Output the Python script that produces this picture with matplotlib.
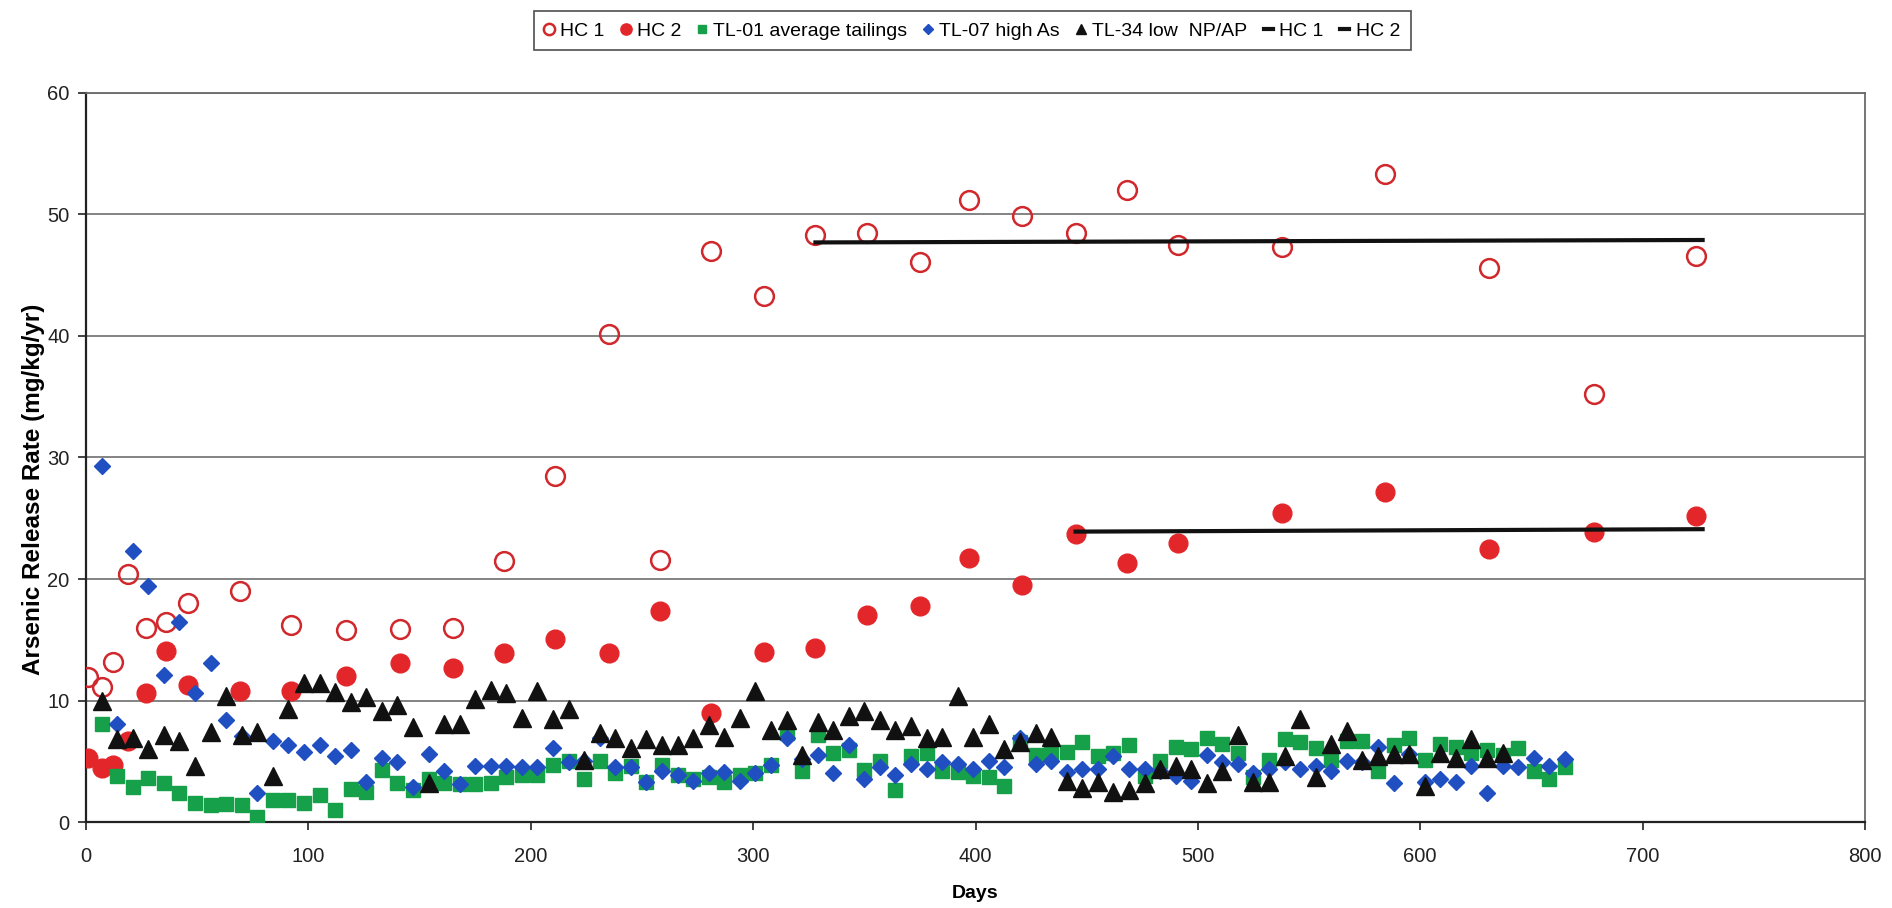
import matplotlib
matplotlib.use("Agg")
import matplotlib.pyplot as plt

plt.rcParams['font.family'] = ['Liberation Sans', 'DejaVu Sans']

# humidity cell sampling days (HC 1 / HC 2)
hc_days = [1, 7, 12, 19, 27, 36, 46, 69, 92, 117,
           141, 165, 188, 211, 235, 258, 281, 305, 328, 351,
           375, 397, 421, 445, 468, 491, 538, 584, 631, 678, 724]
hc1 = [11.9, 11.1, 13.2, 20.4, 16.0, 16.5, 18.0, 19.0, 16.2, 15.8,
       15.9, 16.0, 21.5, 28.5, 40.2, 21.6, 47.0, 43.3, 48.3, 48.5,
       46.1, 51.2, 49.9, 48.5, 52.0, 47.5, 47.3, 53.3, 45.6, 35.2, 46.6]
hc2 = [5.3, 4.45, 4.7, 6.7, 10.6, 14.1, 11.3, 10.8, 10.8, 12.0,
       13.1, 12.7, 13.9, 15.1, 13.9, 17.4, 9.0, 14.0, 14.3, 17.0,
       17.8, 21.7, 19.5, 23.7, 21.3, 23.0, 25.4, 27.2, 22.5, 23.9, 25.2]

# average lines for the later part of each cell
hc1_line_days = [328, 727]
hc1_line_vals = [47.7, 47.9]
hc2_line_days = [445, 727]
hc2_line_vals = [23.9, 24.1]

# weekly tailings columns
tl_days = [7, 14, 21, 28, 35, 42, 49, 56, 63, 70,
           77, 84, 91, 98, 105, 112, 119, 126, 133, 140,
           147, 154, 161, 168, 175, 182, 189, 196, 203, 210,
           217, 224, 231, 238, 245, 252, 259, 266, 273, 280,
           287, 294, 301, 308, 315, 322, 329, 336, 343, 350,
           357, 364, 371, 378, 385, 392, 399, 406, 413, 420,
           427, 434, 441, 448, 455, 462, 469, 476, 483, 490,
           497, 504, 511, 518, 525, 532, 539, 546, 553, 560,
           567, 574, 581, 588, 595, 602, 609, 616, 623, 630,
           637, 644, 651, 658, 665]

tl01 = [8.1, 3.8, 2.9, 3.6, 3.2, 2.4, 1.6, 1.4, 1.5, 1.4,
        0.4, 1.8, 1.8, 1.6, 2.2, 1.0, 2.7, 2.5, 4.3, 3.2,
        2.6, 3.5, 3.2, 3.1, 3.1, 3.2, 3.7, 3.9, 3.9, 4.7,
        5.0, 3.5, 5.0, 4.0, 4.6, 3.3, 4.7, 3.9, 3.5, 3.7,
        3.3, 3.9, 4.0, 4.7, 7.3, 4.2, 7.2, 5.7, 5.9, 4.3,
        5.0, 2.6, 5.4, 5.7, 4.2, 4.1, 3.8, 3.7, 3.0, 6.6,
        5.5, 5.6, 5.8, 6.6, 5.4, 5.7, 6.3, 3.8, 5.0, 6.2,
        6.0, 6.9, 6.4, 5.7, 3.7, 5.1, 6.8, 6.6, 6.1, 5.1,
        6.7, 6.7, 4.2, 6.3, 6.9, 5.1, 6.4, 6.2, 5.7, 5.9,
        5.5, 6.1, 4.2, 3.5, 4.5]

tl07 = [29.3, 8.1, 22.3, 19.4, 12.1, 16.5, 10.6, 13.1, 8.4, 7.1,
        2.4, 6.7, 6.3, 5.8, 6.3, 5.4, 5.9, 3.3, 5.3, 4.9,
        2.9, 5.6, 4.2, 3.1, 4.6, 4.6, 4.6, 4.5, 4.5, 6.1,
        4.9, 5.0, 6.9, 4.5, 4.5, 3.3, 4.2, 3.9, 3.4, 4.0,
        4.1, 3.4, 4.0, 4.7, 6.9, 5.2, 5.5, 4.0, 6.3, 3.5,
        4.5, 3.9, 4.8, 4.4, 4.9, 4.8, 4.4, 5.0, 4.5, 6.9,
        4.8, 5.0, 4.1, 4.4, 4.4, 5.4, 4.4, 4.4, 4.2, 3.8,
        3.4, 5.5, 4.9, 4.8, 4.0, 4.4, 4.9, 4.4, 4.6, 4.2,
        5.0, 4.9, 6.2, 3.2, 5.6, 3.3, 3.5, 3.3, 4.6, 2.4,
        4.6, 4.5, 5.3, 4.6, 5.2]

tl34 = [10.0, 6.8, 6.9, 6.0, 7.2, 6.7, 4.6, 7.4, 10.4, 7.2,
        7.4, 3.8, 9.3, 11.4, 11.4, 10.7, 9.9, 10.3, 9.1, 9.6,
        7.8, 3.2, 8.1, 8.1, 10.1, 10.9, 10.6, 8.6, 10.8, 8.5,
        9.3, 5.1, 7.3, 6.9, 6.1, 6.8, 6.3, 6.3, 6.9, 8.0,
        7.0, 8.6, 10.8, 7.6, 8.4, 5.5, 8.2, 7.6, 8.7, 9.1,
        8.4, 7.6, 7.9, 6.9, 7.0, 10.4, 7.0, 8.1, 6.0, 6.6,
        7.3, 7.0, 3.4, 2.8, 3.3, 2.5, 2.6, 3.2, 4.4, 4.6,
        4.4, 3.2, 4.2, 7.2, 3.3, 3.3, 5.4, 8.5, 3.7, 6.4,
        7.5, 5.1, 5.4, 5.6, 5.6, 3.0, 5.7, 5.3, 6.8, 5.3,
        5.7]

x_ticks = [0, 100, 200, 300, 400, 500, 600, 700, 800]
y_ticks = [0, 10, 20, 30, 40, 50, 60]

fig = plt.figure(figsize=(18.92, 9.08), dpi=100)
ax = fig.add_axes([0.0455, 0.0947, 0.9402, 0.8029])

red = '#e3262a'
ax.plot(hc_days, hc1, 'o', ms=13.5, mfc='none', mec='#d0282c', mew=1.8, label='HC 1', zorder=3)
ax.plot(hc_days, hc2, 'o', ms=13.5, mfc=red, mec=red, label='HC 2', zorder=3)
ax.plot(tl_days, tl01, 's', ms=10.5, mfc='#17a04a', mec='#17a04a', label='TL-01 average tailings', zorder=3)
ax.plot(tl_days, tl07, 'D', ms=8.2, mfc='#1f4fc0', mec='#1f4fc0', label='TL-07 high As', zorder=3)
ax.plot(tl_days[:len(tl34)], tl34, '^', ms=13, mfc='#111111', mec='#111111', label='TL-34 low  NP/AP', zorder=3)
ax.plot(hc1_line_days, hc1_line_vals, '-', color='#111111', lw=3, label='HC 1', zorder=4)
ax.plot(hc2_line_days, hc2_line_vals, '-', color='#111111', lw=3, label='HC 2', zorder=4)

ax.set_xlim(0, 800)
ax.set_ylim(0, 60)
ax.set_xticks(x_ticks)
ax.set_yticks(y_ticks)
ax.yaxis.grid(True, color='#7a7a7a', lw=1.3)
ax.set_axisbelow(True)
ax.tick_params(axis='both', direction='out', length=6, width=1.2, colors='#222222', labelsize=14.5)
ax.tick_params(axis='x', pad=12)
ax.tick_params(axis='y', pad=6)
for side in ['left', 'bottom']:
    ax.spines[side].set_color('#222222')
    ax.spines[side].set_linewidth(1.6)
for side in ['top', 'right']:
    ax.spines[side].set_color('#6a6a6a')
    ax.spines[side].set_linewidth(1.3)

ax.set_xlabel('Days', fontsize=14, fontweight='bold', labelpad=14)
ax.set_ylabel('Arsenic Release Rate (mg/kg/yr)', fontsize=17.5, fontweight='bold')
ax.yaxis.set_label_coords(-0.023, 0.457)

handles, labels = ax.get_legend_handles_labels()
leg = fig.legend(handles, labels, loc='center', bbox_to_anchor=(0.514, 0.966), ncol=7,
                 frameon=True, fancybox=False, edgecolor='#222222', fontsize=14,
                 handlelength=0.45, handletextpad=0.35, columnspacing=0.85,
                 borderpad=0.55, markerscale=0.6)
leg.get_frame().set_linewidth(1.2)

fig.savefig('out.png', dpi=100)
